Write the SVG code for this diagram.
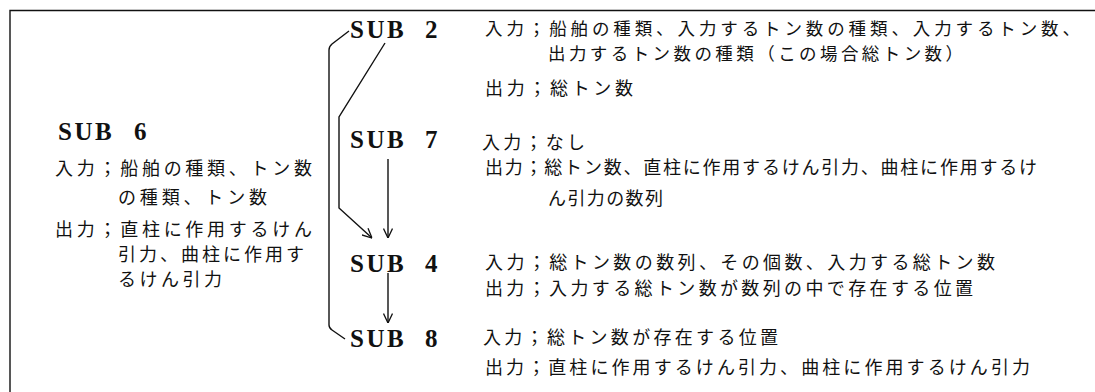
<svg xmlns="http://www.w3.org/2000/svg" width="1095" height="392" viewBox="0 0 1095 392">
<style>
.sub{font-family:"Liberation Serif","DejaVu Serif",serif;font-weight:bold;font-size:25px;letter-spacing:2.5px;fill:#111}
.jp{font-family:"Noto Sans CJK JP","Noto Sans",sans-serif;font-size:18px;fill:#111}
.jps{font-size:17.5px}
.ln{fill:none;stroke:#111;stroke-width:1.4}
</style>
<defs>
<marker id="arr" viewBox="0 0 10 10" refX="10" refY="5" markerWidth="10" markerHeight="10" markerUnits="userSpaceOnUse" orient="auto">
<path d="M0.5,0.5 L10,5 L0.5,9.5" fill="none" stroke="#111" stroke-width="1.3"/>
</marker>
</defs>
<rect width="1095" height="392" fill="#fff"/>
<g id="frame"><path class="ln" d="M10,392 V10.5 H1095"/></g>
<g id="sub6">
<text class="sub" x="58" y="140">SUB</text><text class="sub" x="134" y="140">6</text>
<text class="jp" x="55" y="175" textLength="257" lengthAdjust="spacing">入力；船舶の種類、トン数</text>
<text class="jp" x="118" y="204" textLength="149" lengthAdjust="spacing">の種類、トン数</text>
<text class="jp" x="55" y="236" textLength="257" lengthAdjust="spacing">出力；直柱に作用するけん</text>
<text class="jp" x="118" y="261" textLength="186" lengthAdjust="spacing">引力、曲柱に作用す</text>
<text class="jp" x="118" y="286" textLength="104" lengthAdjust="spacing">るけん引力</text>
</g>
<g id="sub2">
<text class="sub" x="350" y="38">SUB</text><text class="sub" x="425" y="38">2</text>
<text class="jp jps" x="485" y="35" textLength="595" lengthAdjust="spacing">入力；船舶の種類、入力するトン数の種類、入力するトン数、</text>
<text class="jp jps" x="548" y="60" textLength="415" lengthAdjust="spacing">出力するトン数の種類（この場合総トン数）</text>
<text class="jp" x="485" y="95" textLength="148" lengthAdjust="spacing">出力；総トン数</text>
</g>
<g id="sub7">
<text class="sub" x="350" y="148">SUB</text><text class="sub" x="425" y="148">7</text>
<text class="jp" x="482" y="149" textLength="103" lengthAdjust="spacing">入力；なし</text>
<text class="jp" x="485" y="174" textLength="552" lengthAdjust="spacing">出力；総トン数、直柱に作用するけん引力、曲柱に作用するけ</text>
<text class="jp" x="548" y="205" textLength="115" lengthAdjust="spacing">ん引力の数列</text>
</g>
<g id="sub4">
<text class="sub" x="350" y="272">SUB</text><text class="sub" x="425" y="272">4</text>
<text class="jp" x="485" y="269" textLength="510" lengthAdjust="spacing">入力；総トン数の数列、その個数、入力する総トン数</text>
<text class="jp" x="485" y="295" textLength="488" lengthAdjust="spacing">出力；入力する総トン数が数列の中で存在する位置</text>
</g>
<g id="sub8">
<text class="sub" x="350" y="347">SUB</text><text class="sub" x="425" y="347">8</text>
<text class="jp" x="483" y="344" textLength="295" lengthAdjust="spacing">入力；総トン数が存在する位置</text>
<text class="jp" x="485" y="374" textLength="545" lengthAdjust="spacing">出力；直柱に作用するけん引力、曲柱に作用するけん引力</text>
</g>
<g id="connectors">
<path class="ln" d="M349,31 L332,44 Q329,46.5 329,50 L329,325 Q329,328 332,330 L345,339"/>
<path class="ln" d="M385,43 L339,117 L339,208 L372,238" marker-end="url(#arr)"/>
<path class="ln" d="M388,159 V238" marker-end="url(#arr)"/>
<path class="ln" d="M388,273 V323" marker-end="url(#arr)"/>
</g>
</svg>
